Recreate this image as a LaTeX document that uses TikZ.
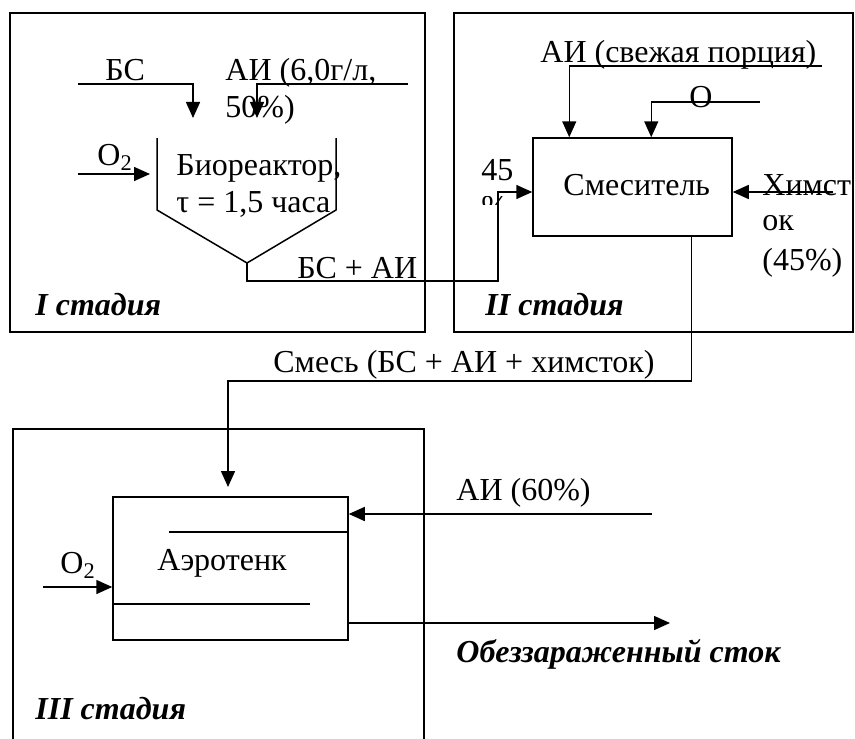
\documentclass[tikz,border=0pt]{standalone}
\usepackage{fontspec}
\setmainfont{Liberation Serif}
\usetikzlibrary{arrows.meta}
\tikzset{
	txt/.style={anchor=base west,inner sep=0pt,font=\fontsize{16}{18.5}\selectfont},
	stage/.style={txt,font=\fontsize{16}{18.5}\selectfont\bfseries\itshape},
	pipe/.style={line width=0.75pt},
	flow/.style={pipe,-{Triangle[length=8pt,width=7pt]}},
	frame/.style={line width=1.1pt},
	apparat/.style={draw,line width=0.75pt,inner sep=0pt,minimum width=#1}
}
\begin{document}
\begin{tikzpicture}[x=0.5pt,y=-0.5pt]
			\useasboundingbox (0,0) rectangle (855,738);
			\clip (0,0) rectangle (855,738);
			\draw[frame] (10,13) rectangle (425,332);
			\draw[frame] (454,13) rectangle (853,332);
			\draw[frame] (13,429) rectangle (424,760);
			\node[stage] (st1) at (35,315) {I стадия};
			\node[stage] (st2) at (485,315) {II стадия};
			\node[stage] (st3) at (35,719) {III стадия};
			\coordinate (br1) at (157,138);
			\coordinate (br2) at (157,210);
			\coordinate (br3) at (247,263);
			\coordinate (br4) at (336,210);
			\coordinate (br5) at (336,138);
			\draw[pipe] (br1) -- (br2) -- (br3) -- (br4) -- (br5);
			\node[txt] (bio) at (176,175) {Биореактор,};
			\node[txt] (tau) at (176,212) {τ = 1,5 часа};
			\coordinate (bsin) at (78,84);
			\coordinate (bsend) at (193,118);
			\draw[flow] (bsin) -| (bsend);
			\node[txt] (bs) at (105,81) {БС};
			\coordinate (aiin) at (408,84);
			\coordinate (aiend) at (257,118);
			\draw[flow] (aiin) -| (aiend);
			\node[txt] (ai1) at (225,81) {АИ (6,0г/л,};
			\node[txt] (ai1b) at (225,118) {50\%)};
			\coordinate (o2in) at (78,174);
			\coordinate (o2end) at (150,174);
			\draw[flow] (o2in) -- (o2end);
			\node[txt] (o2a) at (97,165) {O\textsubscript{2}};
			\node[txt] (bsai) at (297,278) {БС + АИ};
			\node[apparat=99.5pt,minimum height=49pt] (mixer) at (632.5,187) {};
			\node[txt] (mixtxt) at (563,195) {Смеситель};
			\coordinate (bsturn) at (498,281);
			\draw[flow] (br3) |- (bsturn) |- ([yshift=-2.5pt]mixer.west);
			\coordinate (aifr) at (822,66);
			\draw[flow] (aifr) -| ([xshift=18.5pt]mixer.north west);
			\node[txt] (aifrtxt) at (540,62) {АИ (свежая порция)};
			\coordinate (oin) at (760,102);
			\draw[flow] (oin) -| ([xshift=59.5pt]mixer.north west);
			\node[txt] (otxt) at (689,107) {O};
			\node[txt] (n45) at (481,180) {45};
			\begin{scope}
				\clip (470,196) rectangle (520,204);
				\node[txt] (pct) at (481,217) {\%};
			\end{scope}
			\coordinate (chemin) at (833,192);
			\draw[flow] (chemin) -- (chemin -| mixer.east);
			\node[txt] (chem1) at (762,195) {Химст};
			\node[txt] (chem2) at (762,230) {ок};
			\node[txt] (chem3) at (762,270) {(45\%)};
			\node[apparat=117.5pt,minimum height=71.5pt] (aero) at (230.5,568.5) {};
			\node[txt] (aerotxt) at (157,570) {Аэротенк};
			\draw[pipe] ([yshift=18.25pt]aero.east) -- ++(-180,0);
			\draw[pipe] ([yshift=-17.75pt]aero.west) -- ++(198,0);
			\coordinate (mixbend) at (228,381);
			\coordinate (mixend) at (228,487);
			\draw[flow] ([xshift=79.5pt]mixer.south west) |- (mixbend) -- (mixend);
			\node[txt] (mixout) at (273,372) {Смесь (БС + АИ + химсток)};
			\coordinate (o2in3) at (43,587);
			\draw[flow] (o2in3) -- (o2in3 -| aero.west);
			\node[txt] (o2b) at (60,573) {O\textsubscript{2}};
			\coordinate (ai60) at (652,514);
			\draw[flow] (ai60) -- (ai60 -| aero.east);
			\node[txt] (ai60txt) at (456,500) {АИ (60\%)};
			\coordinate (outend) at (670,623);
			\draw[flow] (outend -| aero.east) -- (outend);
			\node[stage] (outtxt) at (456,662) {Обеззараженный сток};
		\end{tikzpicture}
\end{document}
